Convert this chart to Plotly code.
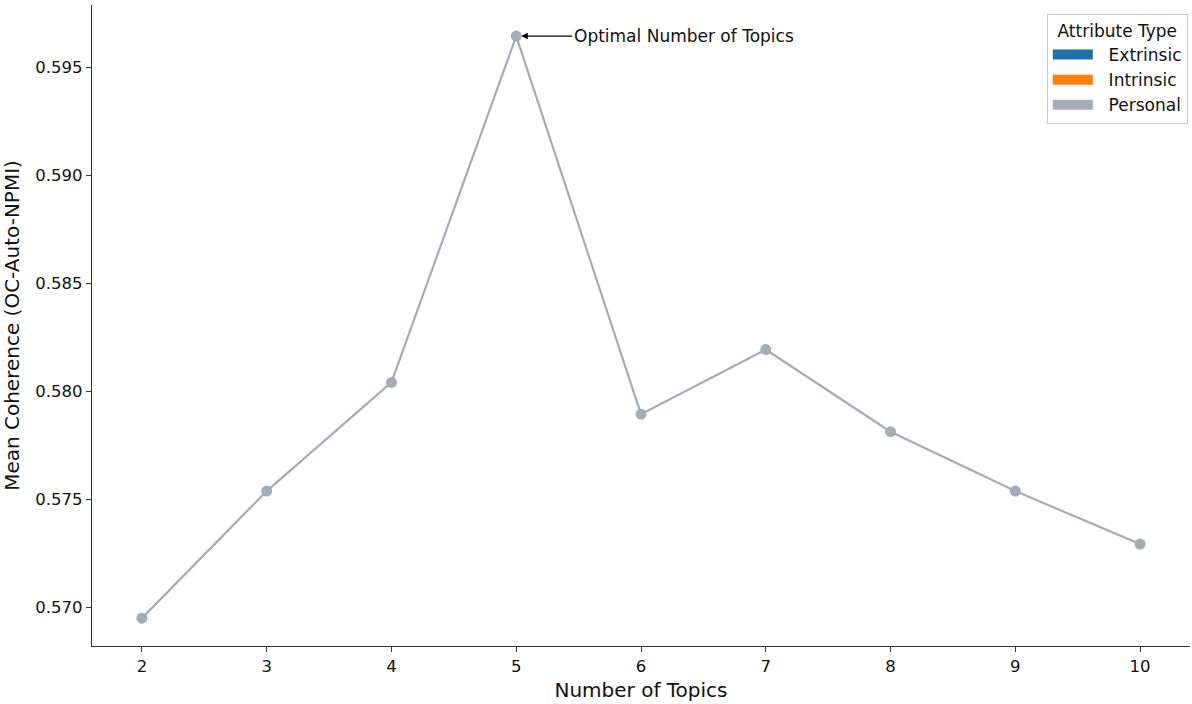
import plotly.graph_objects as go

topics = [2, 3, 4, 5, 6, 7, 8, 9, 10]
coherence = [0.56949, 0.57537, 0.58040, 0.59643, 0.57893, 0.58192, 0.57812, 0.57537, 0.57292]
legend_names = ["Extrinsic", "Intrinsic", "Personal"]
legend_colors = ["#1f6fa8", "#ff7f0e", "#a3acb9"]
line_color = "#a3acb9"
optimal_k = 5
optimal_label = "Optimal Number of Topics"

fig = go.Figure()
fig.add_trace(go.Scatter(
    x=topics, y=coherence, mode="lines+markers",
    line=dict(color=line_color, width=2.2),
    marker=dict(color=line_color, size=11),
    showlegend=False, hoverinfo="x+y",
))
for name, col in zip(legend_names, legend_colors):
    fig.add_trace(go.Scatter(x=[None], y=[None], mode="lines", name="&nbsp;&nbsp;" + name,
                             line=dict(color=col, width=24)))

opt_y = coherence[topics.index(optimal_k)]
fig.add_annotation(
    x=optimal_k, y=opt_y, text=optimal_label, showarrow=True,
    ax=56, ay=0, xanchor="left", arrowhead=2, arrowsize=1, arrowwidth=1.3,
    arrowcolor="black", standoff=5, font=dict(size=17, color="#111"),
)

fig.update_layout(
    width=1192, height=704,
    margin=dict(l=92, r=2, t=5, b=58),
    plot_bgcolor="white", paper_bgcolor="white",
    font=dict(family="DejaVu Sans", size=16, color="#111"),
    legend=dict(
        title=dict(text="Attribute Type", font=dict(size=17), side="top center"),
        x=0.998, y=0.986, xanchor="right", yanchor="top",
        bordercolor="#cccccc", borderwidth=1, bgcolor="rgba(255,255,255,0.8)",
        font=dict(size=17), itemwidth=40, tracegroupgap=0,
    ),
    xaxis=dict(
        range=[1.6, 10.4], tickmode="array", tickvals=topics,
        ticks="outside", ticklen=5, tickcolor="#333", showline=True,
        linecolor="#333", linewidth=1.2, showgrid=False, zeroline=False,
        title=dict(text="Number of Topics", font=dict(size=20), standoff=8),
        tickfont=dict(size=16.5),
    ),
    yaxis=dict(
        range=[0.56820, 0.59787], tickmode="array",
        tickvals=[0.570, 0.575, 0.580, 0.585, 0.590, 0.595],
        ticktext=["0.570", "0.575", "0.580", "0.585", "0.590", "0.595"],
        ticks="outside", ticklen=5, tickcolor="#333", showline=True,
        linecolor="#333", linewidth=1.2, showgrid=False, zeroline=False,
        title=dict(text="Mean Coherence (OC-Auto-NPMI)", font=dict(size=20), standoff=10),
        tickfont=dict(size=16.5),
    ),
)

fig.write_html("out.html")
